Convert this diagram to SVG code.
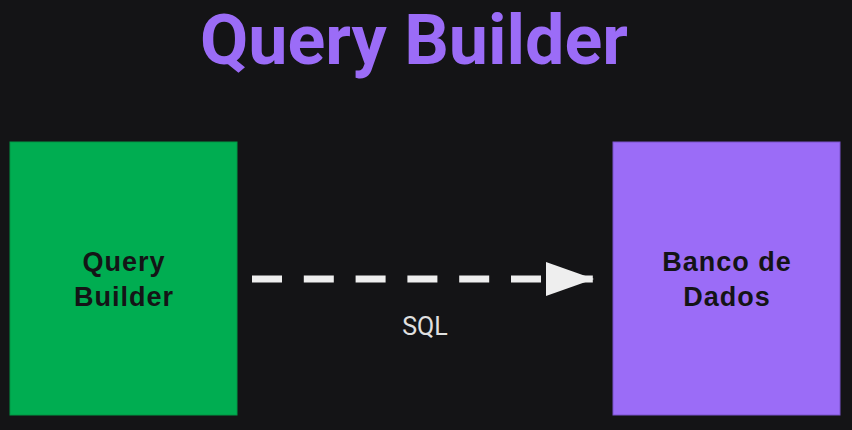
<svg xmlns="http://www.w3.org/2000/svg" width="852" height="430" viewBox="0 0 852 430">
<style>
.node-label{font-family:"Liberation Sans",Arial,sans-serif;font-weight:bold;font-size:27px;letter-spacing:1px;fill:#141416;text-anchor:middle}
.title{font-family:Roboto,"Liberation Sans",sans-serif;font-weight:bold;font-size:70px;fill:#9b6cf7;text-anchor:middle}
.edge-label{font-family:Roboto,"Liberation Sans",sans-serif;font-size:25px;fill:#e0e0e0;text-anchor:middle}
</style>
<defs>
<marker id="arrow" markerUnits="userSpaceOnUse" markerWidth="50" markerHeight="36" refX="48" refY="17" orient="auto">
<path d="M0,0 L48,17 L0,34 Z" fill="#eeeeee"/>
</marker>
</defs>
<rect width="852" height="430" fill="#141416"/>
<text class="title" x="414" y="64">Query Builder</text>
<g id="node-query-builder">
<rect x="10" y="142" width="227" height="273" fill="#00ad51" stroke="#009845" stroke-width="1"/>
<text class="node-label" x="124" y="271">Query</text>
<text class="node-label" x="124" y="306">Builder</text>
</g>
<g id="node-banco-de-dados">
<rect x="613" y="142" width="227" height="273" fill="#9b6cf7" stroke="#7a52cc" stroke-width="1"/>
<text class="node-label" x="727" y="271">Banco de</text>
<text class="node-label" x="727" y="306">Dados</text>
</g>
<g id="connectors">
<line x1="252" y1="279" x2="594" y2="279" stroke="#eeeeee" stroke-width="7" stroke-dasharray="30 21.8" marker-end="url(#arrow)"/>
<text class="edge-label" x="425" y="335">SQL</text>
</g>
</svg>
